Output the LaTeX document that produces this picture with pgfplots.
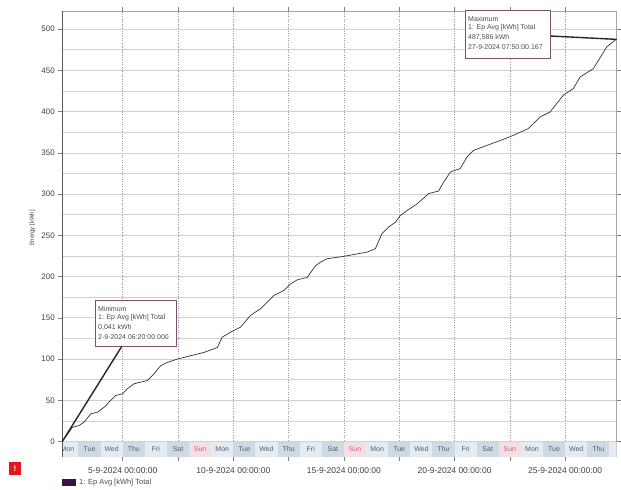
\documentclass[border=0pt]{standalone}
\usepackage{pgfplots}
\pgfplotsset{compat=1.18}
\usepackage{fontspec}
\setmainfont{Liberation Sans}
\definecolor{stripA}{RGB}{228,235,242}
\definecolor{stripB}{RGB}{206,217,228}
\definecolor{stripS}{RGB}{242,224,230}
\definecolor{suntext}{RGB}{214,96,112}
\definecolor{daytext}{RGB}{85,95,105}
\definecolor{boxcol}{RGB}{122,82,112}
\definecolor{legpurple}{RGB}{58,16,72}
\definecolor{iconred}{RGB}{232,20,28}
\newcommand{\daysize}{\fontsize{7}{8}\selectfont}
\newcommand{\dayc}[5]{\fill[#4] (axis cs:#1,-18.4) rectangle (axis cs:#2,-0.7);
  \node[text=#5, font=\daysize, inner sep=0pt] at (axis cs:#1.5,-8.8) {#3};}
\begin{document}
\begin{tikzpicture}
\useasboundingbox (0,0) rectangle (621bp,490bp);
\begin{axis}[
  at={(62.3bp,33.3bp)}, anchor=south west,
  scale only axis, width=554.4bp, height=445.7bp,
  xmin=2.27, xmax=27.33, ymin=-18.4, ymax=522,
  axis line style={draw=black!35, line width=0.6bp},
  tick align=outside,
  major tick length=4bp, minor tick length=4bp,
  tick style={draw=black!50, line width=0.5bp},
  xtick={5,10,15,20,25},
  xticklabels={5-9-2024 00:00:00,10-9-2024 00:00:00,15-9-2024 00:00:00,20-9-2024 00:00:00,25-9-2024 00:00:00},
  minor xtick={7.5,12.5,17.5,22.5},
  ytick={0,50,...,500},
  minor ytick={25,75,...,475},
  minor y tick style={draw=none},
  xmajorgrids, xminorgrids, ymajorgrids, yminorgrids,
  major x grid style={dotted, draw=black!40, line width=0.6bp},
  minor x grid style={dotted, draw=black!40, line width=0.6bp},
  major y grid style={draw=black!18, line width=0.7bp},
  minor y grid style={draw=black!18, line width=0.7bp},
  xticklabel style={font=\fontsize{8.5}{10}\selectfont, text=black!75, anchor=north, yshift=-3bp},
  yticklabel style={font=\fontsize{8}{9}\selectfont, text=black!75},
  /pgf/number format/assume math mode=true,
  ylabel={Energy [kWh]},
  ylabel style={font=\fontsize{6}{7}\selectfont, text=black!75, at={(axis description cs:-0.054,0.513)}, anchor=center},
]
\dayc{2}{3}{Mon}{stripA}{daytext}
\dayc{3}{4}{Tue}{stripB}{daytext}
\dayc{4}{5}{Wed}{stripA}{daytext}
\dayc{5}{6}{Thu}{stripB}{daytext}
\dayc{6}{7}{Fri}{stripA}{daytext}
\dayc{7}{8}{Sat}{stripB}{daytext}
\dayc{8}{9}{Sun}{stripS}{suntext}
\dayc{9}{10}{Mon}{stripA}{daytext}
\dayc{10}{11}{Tue}{stripB}{daytext}
\dayc{11}{12}{Wed}{stripA}{daytext}
\dayc{12}{13}{Thu}{stripB}{daytext}
\dayc{13}{14}{Fri}{stripA}{daytext}
\dayc{14}{15}{Sat}{stripB}{daytext}
\dayc{15}{16}{Sun}{stripS}{suntext}
\dayc{16}{17}{Mon}{stripA}{daytext}
\dayc{17}{18}{Tue}{stripB}{daytext}
\dayc{18}{19}{Wed}{stripA}{daytext}
\dayc{19}{20}{Thu}{stripB}{daytext}
\dayc{20}{21}{Fri}{stripA}{daytext}
\dayc{21}{22}{Sat}{stripB}{daytext}
\dayc{22}{23}{Sun}{stripS}{suntext}
\dayc{23}{24}{Mon}{stripA}{daytext}
\dayc{24}{25}{Tue}{stripB}{daytext}
\dayc{25}{26}{Wed}{stripA}{daytext}
\dayc{26}{27}{Thu}{stripB}{daytext}
\fill[stripA] (axis cs:27,-18.4) rectangle (axis cs:28,-0.7);
\addplot[draw=black!80, line width=0.7bp, mark=none] coordinates {
(2.27,0.04) (2.73,17.3) (3.03,19.4) (3.25,23.4) (3.56,33.6) (3.86,35.6)
(4.16,41.6) (4.46,49.8) (4.68,55.8) (4.99,57.8) (5.21,64) (5.51,70)
(5.81,72) (6.12,74) (6.41,82) (6.72,92) (7.02,96) (7.47,100)
(8.07,104) (8.67,108) (9.28,114) (9.50,126.6) (9.88,132.6) (10.33,138.7)
(10.78,153) (11.23,161) (11.53,169) (11.83,177) (12.28,183) (12.58,191)
(12.89,196) (13.34,199) (13.71,213) (13.94,217.5) (14.24,221.6) (14.99,224.5)
(16.05,229.7) (16.42,233.8) (16.72,252) (17.02,260) (17.33,266) (17.55,274)
(17.85,280) (18.30,288) (18.83,300.6) (19.28,303.8) (19.51,314.7) (19.81,326.8)
(20.26,331) (20.56,345) (20.86,353) (21.46,359) (22.07,365) (22.67,371.4)
(23.34,379.5) (23.87,393.6) (24.32,399.6) (24.92,420) (25.37,428) (25.68,442)
(26.28,452.3) (26.88,478.5) (27.26,486.7) (27.33,487.6)
};
\coordinate (minpt) at (axis cs:2.27,0.04);
\coordinate (maxpt) at (axis cs:27.33,487.6);
\end{axis}
% left spine
\draw[black!65, line width=1.1bp] (62.3bp,33.3bp) -- (62.3bp,479bp);
% callouts
\draw[black!85, line width=1.4bp] (minpt) -- (122bp,144bp);
\draw[boxcol, fill=white, line width=0.8bp] (95bp,144bp) rectangle (176bp,190bp);
\begin{scope}[every node/.style={anchor=west, inner sep=0pt, font=\fontsize{7}{8}\selectfont, text=black!70}]
\node at (98bp,181bp) {Minimum};
\node at (98bp,172bp) {1: Ep Avg [kWh] Total};
\node at (98bp,163bp) {0,041 kWh};
\node at (98bp,153bp) {2-9-2024 06:20:00.000};
\end{scope}
\draw[black!85, line width=1.4bp] (550bp,454bp) -- (maxpt);
\draw[boxcol, fill=white, line width=0.8bp] (465bp,432bp) rectangle (550bp,480bp);
\begin{scope}[every node/.style={anchor=west, inner sep=0pt, font=\fontsize{7}{8}\selectfont, text=black!70}]
\node at (468bp,471bp) {Maximum};
\node at (468bp,462bp) {1: Ep Avg [kWh] Total};
\node at (468bp,453bp) {487,586 kWh};
\node at (468bp,443bp) {27-9-2024 07:50:00.167};
\end{scope}
% icon and legend
\fill[iconred] (9bp,15bp) rectangle (21bp,28bp);
\node[text=white, font=\fontsize{8}{8}\selectfont\bfseries, inner sep=0pt] at (15bp,21.5bp) {!};
\fill[legpurple] (62bp,4bp) rectangle (76bp,11bp);
\node[anchor=west, inner sep=0pt, font=\fontsize{7.5}{8}\selectfont, text=black!70] at (79bp,7.5bp) {1: Ep Avg [kWh] Total};
\end{tikzpicture}
\end{document}
